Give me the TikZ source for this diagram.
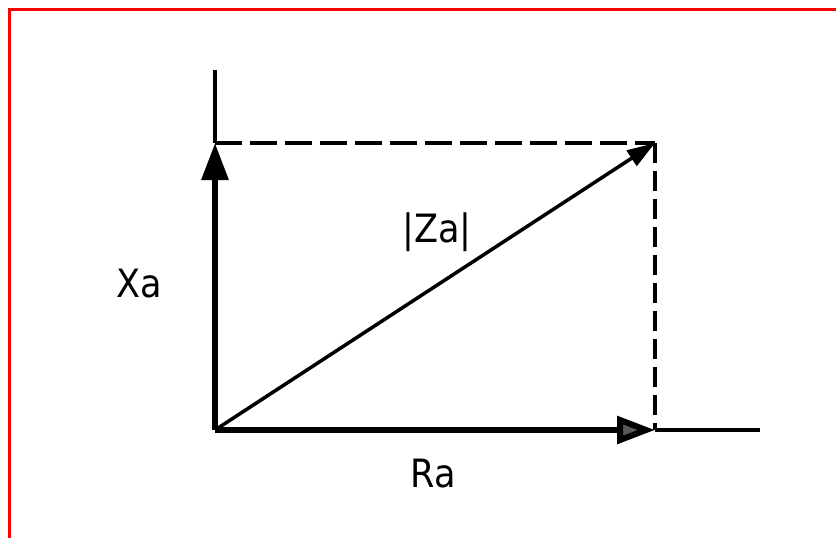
\documentclass[tikz,border=0pt]{standalone}
\usepackage{fontspec}
\setmainfont{DejaVu Sans Condensed}
\usetikzlibrary{arrows.meta}
\begin{document}
\begin{tikzpicture}[x=1pt,y=-1pt,
  axisthick/.style={line width=6pt},
  axisthin/.style={line width=4pt},
  dashh/.style={line width=4pt, dash pattern=on 27pt off 8pt},
  dashv/.style={line width=3.5pt, dash pattern=on 20pt off 8pt},
  lbl/.style={font=\fontsize{39}{45}\selectfont, inner sep=0pt}]
\useasboundingbox (0,0) rectangle (836,538);
% red frame (top and left)
\draw[red, line width=3pt] (9.5,538) -- (9.5,9.5) -- (836,9.5);
% points
\coordinate (O) at (215,430);
\coordinate (Xt) at (215,143);
\coordinate (Xtop) at (215,70);
\coordinate (P) at (655,143);
\coordinate (R) at (655,430);
\coordinate (Rend) at (760,430);
% thin axis extensions
\draw[axisthin] (Xt) -- (Xtop);
\draw[line width=3.5pt] (R) -- (Rend);
% dashed projections
\draw[dashh] (Xt) -- (P);
\draw[dashv] (P) -- (R);
% vectors
\draw[axisthick, -{Triangle[length=37pt,width=26pt]}] (O) -- (Xt);
\draw[axisthick, -{Triangle[length=38pt,width=27pt,fill=black!65]}] (O) -- (R);
\draw[line width=3.5pt, -{Triangle[length=28pt,width=18pt]}] (O) -- (P);
% labels
\node[lbl] (xa) at (139,284) {Xa};
\node[lbl] (za) at (437,232) {|Za|};
\node[lbl] (ra) at (433,474) {Ra};
\end{tikzpicture}
\end{document}
